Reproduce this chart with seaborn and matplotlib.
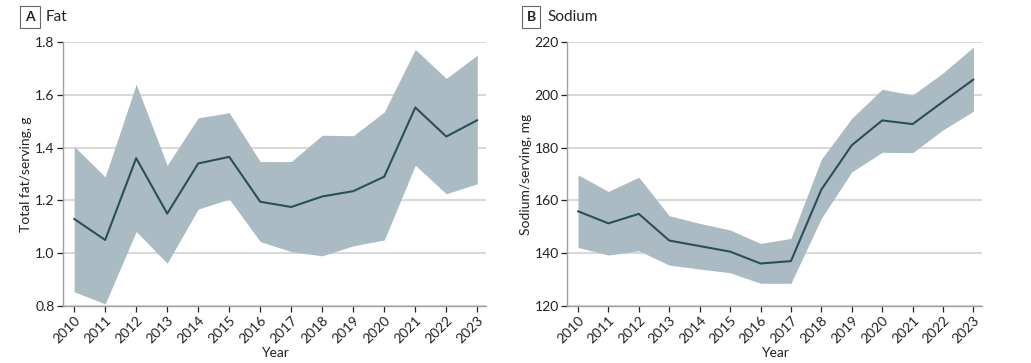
import numpy as np
import pandas as pd
import matplotlib
matplotlib.use("Agg")
import matplotlib.pyplot as plt
import seaborn as sns

# Data
years = list(range(2010, 2024))

fat_mean = [1.13, 1.05, 1.36, 1.15, 1.34, 1.365, 1.195, 1.175, 1.215, 1.235, 1.29, 1.552, 1.442, 1.504]
fat_upper = [1.405, 1.289, 1.64, 1.333, 1.513, 1.532, 1.347, 1.347, 1.447, 1.445, 1.535, 1.772, 1.662, 1.75]
fat_lower = [0.854, 0.808, 1.082, 0.962, 1.167, 1.205, 1.044, 1.006, 0.990, 1.028, 1.050, 1.333, 1.225, 1.263]

sodium_mean = [155.9, 151.3, 154.9, 144.8, 142.7, 140.6, 136.1, 137.0, 164.1, 180.9, 190.3, 188.9, 197.4, 205.8]
sodium_upper = [169.7, 163.4, 168.8, 154.2, 151.3, 148.8, 143.7, 145.6, 175.6, 191.1, 202.1, 199.9, 208.3, 218.1]
sodium_lower = [142.2, 139.3, 140.9, 135.5, 134.0, 132.6, 128.6, 128.6, 153.2, 170.8, 178.2, 178.1, 186.7, 193.8]

fat_df = pd.DataFrame({"Year": years, "mean": fat_mean, "lo": fat_lower, "hi": fat_upper})
sodium_df = pd.DataFrame({"Year": years, "mean": sodium_mean, "lo": sodium_lower, "hi": sodium_upper})

sns.set_theme(style="white")
plt.rcParams["font.family"] = ["Lato", "DejaVu Sans"]

band_color = "#abbbc3"
line_color = "#2b4f5a"

W, H = 1031, 363
fig = plt.figure(figsize=(W / 100, H / 100), dpi=100)
ax1 = fig.add_axes([63 / W, 57 / H, 423 / W, 264 / H])
ax2 = fig.add_axes([567 / W, 57 / H, 415 / W, 264 / H])

panels = [
    (ax1, fat_df, "Total fat/serving, g", [0.8, 1.0, 1.2, 1.4, 1.6, 1.8], (0.8, 1.8), "{:.1f}", "A", "Fat", 30),
    (ax2, sodium_df, "Sodium/serving, mg", [120, 140, 160, 180, 200, 220], (120, 220), "{:.0f}", "B", "Sodium", 531),
]

for ax, df, ylabel, yticks, ylim, fmt, letter, title, box_x in panels:
    ax.fill_between(df["Year"], df["lo"], df["hi"], color=band_color, linewidth=0, zorder=2)
    sns.lineplot(data=df, x="Year", y="mean", ax=ax, color=line_color, linewidth=1.5, zorder=3)
    ax.set_xlim(2009.64, 2023.28)
    ax.set_ylim(*ylim)
    ax.set_yticks(yticks)
    ax.set_yticklabels([fmt.format(v) for v in yticks])
    ax.set_xticks(years)
    ax.set_xticklabels([str(y) for y in years], rotation=45, ha="right", rotation_mode="anchor")
    ax.grid(axis="y", color="#d9d9d9", linewidth=1.5, zorder=0)
    ax.set_axisbelow(True)
    for s in ["top", "right"]:
        ax.spines[s].set_visible(False)
    for s in ["left", "bottom"]:
        ax.spines[s].set_color("#a0a0a0")
        ax.spines[s].set_linewidth(1.0)
    ax.tick_params(axis="both", which="both", length=4, width=0.9, color="#222222",
                   labelsize=10, labelcolor="#222222", bottom=True, left=True, pad=2)
    ax.set_xlabel("Year", fontsize=10, color="#222222", va="center")
    ax.xaxis.set_label_coords(0.5, -(353 - 306) / 264)
    ax.set_ylabel(ylabel, fontsize=10, color="#222222", labelpad=2)

    fig.text(box_x / W, 1 - 17 / H, letter, fontsize=10, fontweight="bold", color="#222222",
             ha="center", va="center",
             bbox=dict(boxstyle="square,pad=0.35", facecolor="white", edgecolor="#666666", linewidth=0.8))
    fig.text((box_x + 16) / W, 1 - 17 / H, title, fontsize=11, color="#222222", ha="left", va="center")

fig.savefig("out.png", dpi=100)
